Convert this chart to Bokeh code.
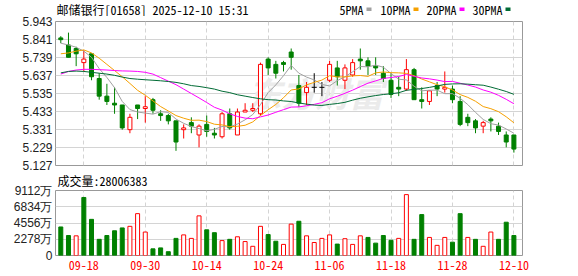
from bokeh.plotting import figure
from bokeh.models import Range1d, FixedTicker, PrintfTickFormatter, Label
from bokeh.layouts import column
from bokeh.embed import file_html
from bokeh.resources import INLINE
import pandas as pd

# ---- daily bars: 邮储银行 (01658) ----
dates = ["09-15", "09-16", "09-17", "09-18", "09-19", "09-22", "09-23", "09-24", "09-25", "09-26",
         "09-29", "09-30", "10-02", "10-03", "10-06", "10-08", "10-09", "10-10", "10-13", "10-14",
         "10-15", "10-16", "10-17", "10-20", "10-21", "10-22", "10-23", "10-24", "10-27", "10-28",
         "10-30", "10-31", "11-03", "11-04", "11-05", "11-06", "11-07", "11-10", "11-11", "11-12",
         "11-13", "11-14", "11-17", "11-18", "11-19", "11-20", "11-21", "11-24", "11-25", "11-26",
         "11-27", "11-28", "12-01", "12-02", "12-03", "12-04", "12-05", "12-08", "12-09", "12-10"]

opens = [5.85, 5.81, 5.79, 5.71, 5.76, 5.62, 5.52, 5.48, 5.47, 5.33,
         5.47, 5.45, 5.50, 5.42, 5.41, 5.38, 5.33, 5.37, 5.30, 5.36,
         5.31, 5.29, 5.42, 5.30, 5.43, 5.44, 5.42, 5.73, 5.70, 5.71,
         5.77, 5.58, 5.54, 5.57, 5.57, 5.61, 5.68, 5.61, 5.64, 5.73,
         5.72, 5.69, 5.65, 5.61, 5.57, 5.56, 5.67, 5.50, 5.49, 5.58,
         5.56, 5.56, 5.49, 5.40, 5.38, 5.35, 5.39, 5.35, 5.30, 5.30]
highs = [5.86, 5.88, 5.80, 5.78, 5.76, 5.65, 5.59, 5.57, 5.47, 5.42,
         5.47, 5.52, 5.51, 5.44, 5.42, 5.38, 5.36, 5.40, 5.36, 5.41,
         5.34, 5.43, 5.45, 5.45, 5.48, 5.48, 5.71, 5.74, 5.72, 5.72,
         5.79, 5.64, 5.60, 5.65, 5.60, 5.72, 5.72, 5.70, 5.73, 5.79,
         5.74, 5.74, 5.69, 5.65, 5.63, 5.73, 5.68, 5.57, 5.55, 5.60,
         5.66, 5.58, 5.52, 5.42, 5.39, 5.38, 5.40, 5.37, 5.32, 5.30]
lows = [5.82, 5.74, 5.69, 5.66, 5.61, 5.50, 5.47, 5.42, 5.33, 5.31,
        5.39, 5.37, 5.42, 5.38, 5.36, 5.21, 5.28, 5.31, 5.23, 5.29,
        5.28, 5.28, 5.33, 5.30, 5.43, 5.43, 5.41, 5.64, 5.62, 5.66,
        5.67, 5.46, 5.47, 5.54, 5.52, 5.60, 5.58, 5.56, 5.63, 5.67,
        5.64, 5.64, 5.60, 5.51, 5.52, 5.55, 5.50, 5.45, 5.47, 5.52,
        5.54, 5.48, 5.35, 5.35, 5.31, 5.31, 5.32, 5.30, 5.23, 5.20]
closes = [5.84, 5.74, 5.76, 5.73, 5.63, 5.52, 5.49, 5.47, 5.34, 5.40,
          5.45, 5.46, 5.44, 5.41, 5.38, 5.26, 5.34, 5.35, 5.35, 5.32,
          5.30, 5.42, 5.34, 5.43, 5.44, 5.45, 5.70, 5.68, 5.65, 5.70,
          5.74, 5.48, 5.57, 5.57, 5.57, 5.70, 5.63, 5.68, 5.71, 5.72,
          5.69, 5.68, 5.62, 5.53, 5.56, 5.67, 5.50, 5.49, 5.55, 5.56,
          5.57, 5.50, 5.36, 5.37, 5.34, 5.37, 5.38, 5.32, 5.26, 5.22]

# turnover (shares) and whether the day closed above the previous close
volumes = [40000000, 28000000, 27560000, 81340000, 50670000, 22670000, 28000000, 34670000, 38670000, 40890000,
           58670000, 32890000, 9330000, 10670000, 5330000, 24000000, 28890000, 24000000, 55560000, 36000000,
           32000000, 20890000, 22670000, 26220000, 19560000, 12890000, 40890000, 29330000, 20000000, 15560000,
           44000000, 48000000, 27560000, 18220000, 24000000, 28890000, 16000000, 23560000, 15560000, 27560000,
           25330000, 17330000, 28000000, 21330000, 24000000, 85340000, 22670000, 57340000, 25330000, 14220000,
           25330000, 18670000, 58670000, 25330000, 22670000, 12890000, 32890000, 22670000, 46670000, 28006383]
vol_rise = [0, 0, 1, 0, 0, 0, 0, 0, 0, 1,
            1, 1, 0, 0, 0, 0, 1, 1, 1, 0,
            0, 1, 0, 1, 1, 1, 1, 0, 0, 1,
            1, 0, 1, 1, 1, 1, 0, 1, 1, 1,
            0, 0, 0, 0, 1, 1, 0, 0, 1, 1,
            1, 0, 0, 1, 0, 1, 1, 0, 0, 0]

# moving-average values for the days before each window is complete
ma5_head = [5.82, 5.81, 5.797, 5.775]
ma10_head = [5.76, 5.765, 5.775, 5.782, 5.765, 5.735, 5.70, 5.665, 5.63]
ma20_head = [5.645, 5.66, 5.668, 5.672, 5.672, 5.67, 5.668, 5.665, 5.663, 5.662,
             5.66, 5.655, 5.645, 5.625, 5.605, 5.585, 5.56, 5.535, 5.51]
ma30_head = [5.652, 5.66, 5.662, 5.66, 5.655, 5.65, 5.645, 5.638, 5.628, 5.62,
             5.616, 5.613, 5.61, 5.607, 5.603, 5.598, 5.59, 5.58, 5.575, 5.568,
             5.56, 5.548, 5.54, 5.528, 5.52, 5.512, 5.505, 5.50, 5.498]

price_ticks = [5.127, 5.229, 5.331, 5.433, 5.535, 5.637, 5.739, 5.841, 5.943]
vol_ticks = [0, 22780000, 45560000, 68340000, 91120000]
vol_tick_labels = ["0", "2278万", "4556万", "6834万", "9112万"]
date_tick_idx = [3, 11, 19, 27, 35, 43, 51, 59]

title_text = "邮储银行[01658] 2025-12-10 15:31"
ma_names = ["5PMA", "10PMA", "20PMA", "30PMA"]

RED = "#ff0000"
GREEN = "#008000"
MA_COLORS = ["#a0a0a0", "#f5a000", "#ff00ff", "#006b35"]
GRID = "#d4d4d4"
FRAME = "#999999"
CJK = "Noto Sans Mono CJK SC"
SANS = "Liberation Sans"
W = 578
LEFT, RIGHT = 55, 56          # side margins shared by every panel
FRAME_W = W - LEFT - RIGHT

n = len(closes)
idx = list(range(n))


def moving_average(head, window):
    full = pd.Series(closes).rolling(window).mean().tolist()
    return head + full[len(head):]


ma_lines = [moving_average(ma5_head, 5), moving_average(ma10_head, 10),
            moving_average(ma20_head, 20), moving_average(ma30_head, 30)]

x_range = Range1d(-0.69, 60.12)

# ---------------- header row: title and moving-average key (page pixels) ----------------
HDR_H = 16
hdr = figure(width=W, height=HDR_H, x_range=Range1d(LEFT, LEFT + FRAME_W), y_range=Range1d(HDR_H, 0),
             x_axis_location=None, y_axis_location=None,
             min_border_left=LEFT, min_border_right=RIGHT, min_border_top=0, min_border_bottom=0,
             output_backend="svg", toolbar_location=None)
hdr.outline_line_color = None
hdr.grid.visible = False
hdr.add_layout(Label(x=56, y=8.5, text=title_text, text_font=CJK, text_font_size="12px",
                     text_color="#000000", text_baseline="middle"))
legend_x = [339, 380, 426, 472]
key_left = []
for name, lx in zip(ma_names, legend_x):
    hdr.add_layout(Label(x=lx, y=8.5, text=name, text_font=CJK, text_font_size="12px",
                         text_color="#000000", text_baseline="middle"))
    key_left.append(lx + 6 * len(name) + 3)
hdr.quad(left=key_left, right=[k + 5 for k in key_left], top=[7] * 4, bottom=[10.5] * 4,
         fill_color=MA_COLORS, line_color=None)

# ---------------- price panel ----------------
p1 = figure(width=W, height=155, x_range=x_range, y_range=Range1d(price_ticks[0], price_ticks[-1]),
            min_border_left=LEFT, min_border_right=RIGHT, min_border_top=5, min_border_bottom=6,
            output_backend="svg", toolbar_location=None)
p1.xaxis.visible = False
p1.outline_line_color = FRAME
p1.outline_line_width = 1
p1.background_fill_color = "white"
p1.border_fill_color = "white"

p1.ygrid.ticker = FixedTicker(ticks=price_ticks)
p1.ygrid.grid_line_color = GRID
p1.xgrid.ticker = FixedTicker(ticks=date_tick_idx)
p1.xgrid.grid_line_color = GRID
p1.xgrid.grid_line_dash = "4 3"

ya = p1.yaxis[0]
ya.ticker = FixedTicker(ticks=price_ticks)
ya.formatter = PrintfTickFormatter(format="%.3f")
ya.axis_line_color = None
ya.major_tick_line_color = None
ya.minor_tick_line_color = None
ya.major_tick_out = 0
ya.major_label_standoff = 3
ya.major_label_text_font = SANS
ya.major_label_text_font_size = "12px"
ya.major_label_text_color = "#222222"

# faint brand watermark behind the bars (screen offsets are frame-relative, y upward)
p1.add_layout(Label(x=192, y=73, x_units="screen", y_units="screen", text="东方财富",
                    text_font="Noto Sans CJK SC", text_font_size="34px", text_font_style="bold italic",
                    text_color="#ebebeb", text_baseline="middle", level="underlay"))

up = [i for i in idx if closes[i] > opens[i]]
down = [i for i in idx if closes[i] < opens[i]]
flat = [i for i in idx if closes[i] == opens[i]]


def pick(arr, sel):
    return [arr[i] for i in sel]


wick_colors = [RED if closes[i] > opens[i] else (GREEN if closes[i] < opens[i] else "#000000") for i in idx]
p1.segment(x0=idx, y0=lows, x1=idx, y1=highs, line_color=wick_colors, line_width=1)
p1.vbar(x=pick(idx, down), width=0.52, top=pick(opens, down), bottom=pick(closes, down),
        fill_color=GREEN, line_color=GREEN, line_width=1)
p1.vbar(x=pick(idx, up), width=0.52, top=pick(closes, up), bottom=pick(opens, up),
        fill_color="white", line_color=RED, line_width=1)
p1.segment(x0=[i - 0.33 for i in flat], y0=pick(closes, flat), x1=[i + 0.33 for i in flat],
           y1=pick(closes, flat), line_color="#000000", line_width=1)

for vals, col in zip(ma_lines, MA_COLORS):
    p1.line(idx, vals, line_color=col, line_width=1)

# ---------------- volume panel ----------------
p2 = figure(width=W, height=105, x_range=x_range, y_range=Range1d(vol_ticks[0], vol_ticks[-1]),
            min_border_left=LEFT, min_border_right=RIGHT, min_border_top=15, min_border_bottom=21,
            title="成交量:" + str(volumes[-1]),
            output_backend="svg", toolbar_location=None)
p2.title.align = "left"
p2.title.vertical_align = "top"
p2.title.offset = 2
p2.title.standoff = 0
p2.title.text_font = CJK
p2.title.text_font_size = "12px"
p2.title.text_font_style = "normal"
p2.title.text_color = "#000000"
p2.outline_line_color = FRAME
p2.outline_line_width = 1
p2.border_fill_color = "white"
p2.ygrid.ticker = FixedTicker(ticks=vol_ticks)
p2.ygrid.grid_line_color = GRID
p2.xgrid.ticker = FixedTicker(ticks=date_tick_idx)
p2.xgrid.grid_line_color = GRID
p2.xgrid.grid_line_dash = "4 3"

va = p2.yaxis[0]
va.ticker = FixedTicker(ticks=vol_ticks)
va.major_label_overrides = {t: s for t, s in zip(vol_ticks, vol_tick_labels)}
va.axis_line_color = None
va.major_tick_line_color = None
va.minor_tick_line_color = None
va.major_tick_out = 0
va.major_label_standoff = 3
va.major_label_text_font = SANS
va.major_label_text_font_size = "12px"
va.major_label_text_color = "#222222"

xa = p2.xaxis[0]
xa.ticker = FixedTicker(ticks=date_tick_idx)
xa.major_label_overrides = {i: dates[i] for i in date_tick_idx}
xa.axis_line_color = None
xa.major_tick_line_color = None
xa.minor_tick_line_color = None
xa.major_tick_out = 0
xa.major_label_standoff = 5
xa.major_label_text_font = CJK
xa.major_label_text_font_size = "12px"
xa.major_label_text_color = RED

vup = [i for i in idx if vol_rise[i]]
vdn = [i for i in idx if not vol_rise[i]]
p2.vbar(x=pick(idx, vdn), width=0.52, top=pick(volumes, vdn), bottom=0,
        fill_color=GREEN, line_color=GREEN, line_width=1)
p2.vbar(x=pick(idx, vup), width=0.52, top=pick(volumes, vup), bottom=0,
        fill_color="white", line_color=RED, line_width=1)

layout = column(hdr, p1, p2, spacing=0)
open("out.html", "w").write(file_html(layout, INLINE))
